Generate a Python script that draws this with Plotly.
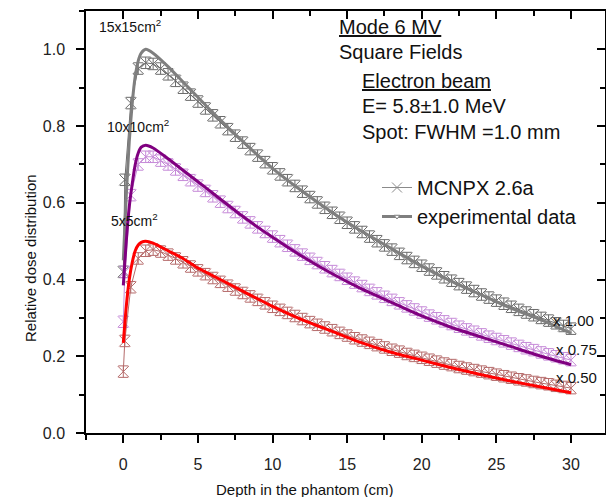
import plotly.graph_objects as go

# ---------------- data ----------------
depth_exp = [0, 0.2, 0.4, 0.6, 0.8, 1.0, 1.2, 1.5, 2, 3, 4, 5, 6, 8, 10, 12, 14,
             16, 18, 20, 22, 24, 26, 28, 30]
exp_15 = [0.45, 0.62, 0.76, 0.86, 0.93, 0.97, 0.99, 1.0, 0.99, 0.955, 0.915, 0.875,
          0.835, 0.76, 0.69, 0.63, 0.575, 0.525, 0.48, 0.435, 0.395, 0.36, 0.325,
          0.295, 0.26]
exp_10 = [0.385, 0.5, 0.59, 0.65, 0.70, 0.73, 0.745, 0.75, 0.743, 0.715, 0.685,
          0.655, 0.625, 0.565, 0.51, 0.46, 0.415, 0.375, 0.34, 0.305, 0.275, 0.25,
          0.225, 0.2, 0.178]
exp_5 = [0.235, 0.33, 0.40, 0.445, 0.475, 0.49, 0.497, 0.5, 0.495, 0.475, 0.455,
         0.43, 0.41, 0.37, 0.33, 0.295, 0.265, 0.235, 0.21, 0.19, 0.17, 0.152,
         0.135, 0.12, 0.105]

depth_sim = [0, 0.1, 0.5, 1, 1.5, 2, 2.5, 3, 3.5, 4, 4.5, 5, 5.5, 6, 6.5, 7, 7.5,
             8, 8.5, 9, 9.5, 10, 10.5, 11, 11.5, 12, 12.5, 13, 13.5, 14, 14.5, 15,
             15.5, 16, 16.5, 17, 17.5, 18, 18.5, 19, 19.5, 20, 20.5, 21, 21.5, 22,
             22.5, 23, 23.5, 24, 24.5, 25, 25.5, 26, 26.5, 27, 27.5, 28, 28.5, 29,
             29.5, 30]
sim_15 = [0.42, 0.66, 0.86, 0.95, 0.965, 0.962, 0.95, 0.935, 0.918, 0.90, 0.882,
          0.864, 0.846, 0.828, 0.81, 0.792, 0.775, 0.757, 0.74, 0.723, 0.706, 0.69,
          0.674, 0.659, 0.644, 0.629, 0.615, 0.601, 0.587, 0.574, 0.561, 0.548,
          0.536, 0.524, 0.512, 0.5, 0.489, 0.478, 0.467, 0.456, 0.446, 0.436,
          0.426, 0.416, 0.406, 0.397, 0.388, 0.379, 0.37, 0.361, 0.353, 0.345,
          0.337, 0.329, 0.321, 0.314, 0.307, 0.3, 0.293, 0.286, 0.279, 0.272]
sim_10 = [0.29, 0.42, 0.62, 0.70, 0.72, 0.72, 0.71, 0.70, 0.687, 0.673, 0.659,
          0.645, 0.631, 0.617, 0.603, 0.589, 0.576, 0.562, 0.549, 0.536, 0.524,
          0.512, 0.5, 0.488, 0.476, 0.465, 0.454, 0.443, 0.432, 0.422, 0.412,
          0.402, 0.392, 0.383, 0.373, 0.364, 0.355, 0.347, 0.338, 0.33, 0.322,
          0.314, 0.306, 0.299, 0.291, 0.284, 0.277, 0.27, 0.264, 0.257, 0.251,
          0.245, 0.239, 0.233, 0.227, 0.221, 0.216, 0.21, 0.205, 0.2, 0.195, 0.19]
sim_5 = [0.16, 0.24, 0.38, 0.455, 0.475, 0.478, 0.473, 0.465, 0.455, 0.445, 0.434,
         0.424, 0.414, 0.404, 0.394, 0.384, 0.374, 0.365, 0.356, 0.347, 0.338,
         0.329, 0.321, 0.313, 0.305, 0.297, 0.289, 0.282, 0.275, 0.268, 0.261,
         0.254, 0.247, 0.241, 0.235, 0.229, 0.223, 0.217, 0.212, 0.206, 0.201,
         0.196, 0.191, 0.186, 0.181, 0.177, 0.172, 0.168, 0.164, 0.16, 0.156,
         0.152, 0.148, 0.144, 0.14, 0.137, 0.133, 0.13, 0.127, 0.123, 0.12, 0.117]

field_labels = ["15x15cm<sup>2</sup>", "10x10cm<sup>2</sup>", "5x5cm<sup>2</sup>"]
scale_labels = ["x 1.00", "x 0.75", "x 0.50"]
x_ticks = [0, 5, 10, 15, 20, 25, 30]
y_ticks = [0.0, 0.2, 0.4, 0.6, 0.8, 1.0]

# ---------------- style ----------------
FONT = "Liberation Sans, Arial, sans-serif"
W, H = 606, 497
L, R, T, B = 86, 605, 11, 433
exp_colors = ["#7f7f7f", "#800080", "#ff0000"]
sim_colors = ["#6a6a6a", "#c68ad8", "#b56a6a"]


def P(px, py):
    return (px - L) / (R - L), (B - py) / (B - T)


fig = go.Figure()

sims = [sim_15, sim_10, sim_5]
exps = [exp_15, exp_10, exp_5]
for s, c in zip(sims, sim_colors):
    fig.add_trace(go.Scatter(
        x=depth_sim, y=s, mode="lines+markers", showlegend=False,
        line=dict(color=c, width=1),
        marker=dict(symbol="x-thin-open", size=11, line=dict(color=c, width=1)),
        error_y=dict(type="constant", value=0.015, thickness=1, width=5, color=c),
        hoverinfo="skip"))
for e, c in zip(exps, exp_colors):
    fig.add_trace(go.Scatter(
        x=depth_exp, y=e, mode="lines", showlegend=False,
        line=dict(color=c, width=3, shape="spline", smoothing=0.6),
        hoverinfo="skip"))

# legend samples
fig.add_trace(go.Scatter(
    x=[None], y=[None], mode="lines+markers", name="MCNPX 2.6a",
    line=dict(color="#8a8a8a", width=1),
    marker=dict(symbol="x-thin-open", size=10, line=dict(color="#8a8a8a", width=1))))
fig.add_trace(go.Scatter(
    x=[None], y=[None], mode="lines+markers", name="experimental data",
    line=dict(color="#7f7f7f", width=3),
    marker=dict(symbol="triangle-down", size=5, color="white",
                line=dict(color="#7f7f7f", width=1))))

axis_common = dict(showgrid=False, zeroline=False, showline=True,
                   linecolor="black", linewidth=1.5, tickcolor="black",
                   tickwidth=1.5, ticklen=8, automargin=False,
                   tickfont=dict(family=FONT, size=16, color="#222"))

fig.update_layout(
    width=W, height=H,
    margin=dict(l=L, r=W - R, t=T, b=H - B, autoexpand=False),
    paper_bgcolor="white", plot_bgcolor="white",
    font=dict(family=FONT, color="#111"),
    xaxis=dict(range=[-2.5, 32.28], tickvals=x_ticks, ticks="outside",
               ticklabelstandoff=8,
               minor=dict(dtick=2.5, tick0=0, ticks="outside", ticklen=5,
                          tickwidth=1.5, tickcolor="black"),
               **axis_common),
    yaxis=dict(range=[0, 1.1], tickvals=y_ticks, tickformat=".1f",
               ticks="outside", ticklabelstandoff=8,
               minor=dict(dtick=0.1, tick0=0, ticks="outside", ticklen=5,
                          tickwidth=1.5, tickcolor="black"),
               **axis_common),
    xaxis2=dict(range=[-2.5, 32.28], overlaying="x", side="top",
                tickvals=x_ticks, ticks="inside", showticklabels=False,
                minor=dict(dtick=2.5, tick0=0, ticks="inside", ticklen=5,
                           tickwidth=1.5, tickcolor="black"),
                **axis_common),
    yaxis2=dict(range=[0, 1.1], overlaying="y", side="right",
                tickvals=y_ticks, ticks="inside", showticklabels=False,
                minor=dict(dtick=0.1, tick0=0, ticks="inside", ticklen=5,
                           tickwidth=1.5, tickcolor="black"),
                **axis_common),
    legend=dict(x=P(377, 0)[0], y=P(0, 168)[1], xanchor="left", yanchor="top",
                bgcolor="rgba(0,0,0,0)", font=dict(family=FONT, size=20, color="#111"),
                tracegroupgap=0),
    showlegend=True,
)

# dummy trace to activate secondary axes
fig.add_trace(go.Scatter(x=[None], y=[None], xaxis="x2", yaxis="y2",
                         showlegend=False, hoverinfo="skip"))


def ann(text, px, py, size, xanchor="left", **kw):
    xp, yp = P(px, py)
    fig.add_annotation(text=text, x=xp, y=yp, xref="paper", yref="paper",
                       xanchor=xanchor, yanchor="middle", showarrow=False,
                       font=dict(family=FONT, size=size, color="#111"), **kw)


ann("<u>Mode 6 MV</u>", 337, 27, 20)
ann("Square Fields", 337, 52, 20)
ann("<u>Electron beam</u>", 360, 81, 20)
ann("E= 5.8±1.0 MeV", 360, 106, 20)
ann("Spot: FWHM =1.0 mm", 360, 132, 20)

for lab, (px, py) in zip(field_labels, [(97, 26), (105, 126), (109, 220)]):
    ann(lab, px, py, 14)
for lab, (px, py) in zip(scale_labels, [(551, 320), (554, 349), (554, 377)]):
    ann(lab, px, py, 15)

ann("Relative dose distribution", 30, 258, 15, xanchor="center", textangle=-90)
ann("Depth in the phantom (cm)", 305, 489, 15, xanchor="center")

fig.write_html(
    "out.html",
    config={"displayModeBar": False},
    post_script="document.body.style.margin='0';document.body.style.overflow='hidden';",
)
